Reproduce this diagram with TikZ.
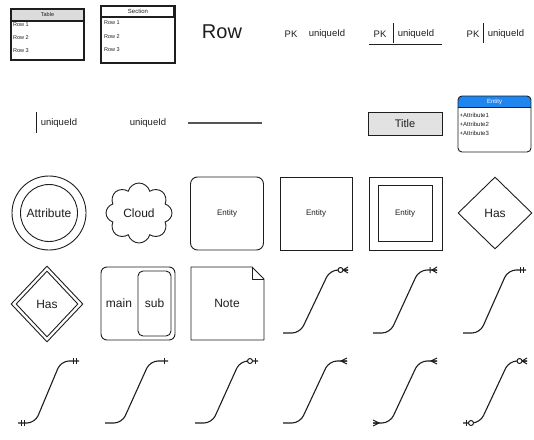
\documentclass[tikz,border=0pt]{standalone}
\usepackage{fontspec}
\setmainfont{Liberation Sans}
\usetikzlibrary{shapes.geometric,shapes.symbols,calc}
\definecolor{ink}{HTML}{1E1E1E}
\definecolor{hdrgray}{HTML}{DCDCDC}
\definecolor{titlegray}{HTML}{E2E2E2}
\definecolor{umlblue}{HTML}{1F86F0}
\definecolor{linegray}{HTML}{555555}
\tikzset{
  fs/.style={font=\fontsize{#1}{#1}\selectfont},
  lbl/.style={inner sep=0pt, text=ink},
  shp/.style={draw=ink, line width=0.9pt},
  conn/.style={draw=ink, line width=1.1pt, rounded corners=8pt},
  mk/.style={draw=ink, line width=1pt},
  mk one/.pic={\draw[mk] (-4,-3) -- (-4,3);},
  mk mand/.pic={\draw[mk] (-3,-3) -- (-3,3) (-6,-3) -- (-6,3);},
  mk many/.pic={\draw[mk] (0,-3) -- (-6,0) -- (0,3) (-6,0) -- (0,0);},
  mk onemany/.pic={\draw[mk] (0,-3) -- (-5,0) -- (0,3) (-5,0) -- (0,0) (-7,-3) -- (-7,3);},
  mk zeromany/.pic={\draw[mk] (0,-3) -- (-5,0) -- (0,3) (-5,0) -- (0,0); \draw[mk, fill=white] (-7.5,0) circle[radius=2.5];},
  mk zeroone/.pic={\draw[mk] (-3,-3) -- (-3,3); \draw[mk, fill=white] (-8,0) circle[radius=2.5];},
}
\newcommand{\erconn}[2]{\draw[conn] (#1) -- ++(17,0) -- ($(#2)+(-18,0)$) -- (#2);}
\begin{document}
\begin{tikzpicture}[x=1pt,y=-1pt]
\useasboundingbox[fill=white] (0,0) rectangle (534,439);

% ---------- Row 1 ----------
% Table
\draw[shp, line width=1.3pt, fill=white] (11,9) rectangle (84,60);
\draw[shp, line width=1.3pt, fill=hdrgray] (11,9) rectangle (84,21);
\node[lbl, fs=5.5] (tabh) at (47.5,15) {Table};
\node[lbl, fs=5.5, anchor=west] (tab1) at (13,25) {Row 1};
\node[lbl, fs=5.5, anchor=west] (tab2) at (13,38) {Row 2};
\node[lbl, fs=5.5, anchor=west] (tab3) at (13,51) {Row 3};
% Section
\draw[shp, line width=1.2pt, fill=white] (101,6) rectangle (175,63);
\draw[shp, line width=1.2pt] (101,17) -- (175,17);
\draw[ink, line width=2pt] (174,6) -- (174,17);
\node[lbl, fs=6] (sech) at (138,11.5) {Section};
\node[lbl, fs=5.5, anchor=west] (sec1) at (104,23) {Row 1};
\node[lbl, fs=5.5, anchor=west] (sec2) at (104,37) {Row 2};
\node[lbl, fs=5.5, anchor=west] (sec3) at (104,50) {Row 3};
% Row
\node[lbl, fs=20] (rowbig) at (222,32) {Row};
% PK uniqueId
\node[lbl, fs=9.5] (pk1) at (291,34) {PK};
\node[lbl, fs=9.5] (uid1) at (327,34) {uniqueId};
% PK | uniqueId underlined
\node[lbl, fs=9.5] (pk2) at (380,34) {PK};
\node[lbl, fs=9.5] (uid2) at (416,34) {uniqueId};
\draw[ink, line width=1pt] (393,23) -- (393,43);
\draw[ink, line width=1pt] (369,44) -- (442,44);
% PK | uniqueId
\node[lbl, fs=9.5] (pk3) at (473,34) {PK};
\node[lbl, fs=9.5] (uid3) at (506,34) {uniqueId};
\draw[ink, line width=1pt] (483,23) -- (483,43);

% ---------- Row 2 ----------
\draw[ink, line width=1pt] (36,112) -- (36,133);
\node[lbl, fs=9.5] (uid4) at (59,123) {uniqueId};
\node[lbl, fs=9.5] (uid5) at (148,123) {uniqueId};
\draw[linegray, line width=1.4pt] (188,123) -- (262,123);
\node[shp, fill=titlegray, minimum width=74pt, minimum height=23pt, inner sep=0pt, fs=11, text=ink] (title) at (405,123.5) {Title};
% UML entity
\begin{scope}
  \clip[rounded corners=4pt] (458,96) rectangle (531,152);
  \fill[umlblue] (458,96) rectangle (531,107);
\end{scope}
\draw[shp, rounded corners=4pt] (458,96) rectangle (531,152);
\draw[shp] (458,107) -- (531,107);
\node[lbl, fs=6, text=white] (umlh) at (494.5,101.5) {Entity};
\node[lbl, fs=6, anchor=west] (att1) at (459.5,115) {+Attribute1};
\node[lbl, fs=6, anchor=west] (att2) at (459.5,124) {+Attribute2};
\node[lbl, fs=6, anchor=west] (att3) at (459.5,133) {+Attribute3};

% ---------- Row 3 ----------
\node[shp, circle, minimum size=57pt, inner sep=0pt, fs=12, text=ink] (attr) at (49,213) {Attribute};
\draw[shp] (attr.center) circle[radius=37pt];
\node[shp, cloud, cloud puffs=8, aspect=1.1, minimum width=66pt, minimum height=60pt, inner sep=0pt, fs=12, text=ink] (cloud) at (139,213) {Cloud};
\node[shp, rounded corners=7pt, minimum width=73pt, minimum height=73pt, inner sep=0pt, fs=8, text=ink] (ent1) at (227,213.5) {Entity};
\node[shp, minimum width=72pt, minimum height=73pt, inner sep=0pt, fs=8, text=ink] (ent2) at (316,213.5) {Entity};
\node[shp, minimum width=54pt, minimum height=56pt, inner sep=0pt, fs=8, text=ink] (ent3) at (405,213) {Entity};
\draw[shp] (369,177) rectangle (442,250);
\node[shp, diamond, minimum width=74pt, minimum height=72pt, inner sep=0pt, fs=12, text=ink] (has1) at (495,213) {Has};

% ---------- Row 4 ----------
\node[shp, diamond, minimum width=72pt, minimum height=76pt, inner sep=0pt] (has2o) at (47,304) {};
\node[shp, diamond, minimum width=62pt, minimum height=66pt, inner sep=0pt, fs=12, text=ink] (has2) at (47,304) {Has};
\draw[shp, rounded corners=6pt] (101,267) rectangle (175,340);
\draw[shp, rounded corners=5pt] (138,271) rectangle (171,336);
\node[lbl, fs=12] (main) at (119,303) {main};
\node[lbl, fs=12] (sub) at (154.5,303) {sub};
\draw[shp, line join=round] (191,267) -- (252,267) -- (264,279) -- (264,340) -- (191,340) -- cycle;
\draw[shp, line join=round] (252,267) -- (252,279) -- (264,279);
\node[lbl, fs=12] (note) at (227,303) {Note};

% connectors row 4
\coordinate (a1) at (283,333); \coordinate (b1) at (348,270);
\coordinate (a2) at (373,333); \coordinate (b2) at (437,270);
\coordinate (a3) at (463,333); \coordinate (b3) at (526,270);
\erconn{a1}{b1} \path (b1) pic {mk zeromany};
\erconn{a2}{b2} \path (b2) pic {mk onemany};
\erconn{a3}{b3} \path (b3) pic {mk mand};

% connectors row 5
\coordinate (a4) at (18,423);  \coordinate (b4) at (79,361);
\coordinate (a5) at (105,423); \coordinate (b5) at (168,361);
\coordinate (a6) at (195,423); \coordinate (b6) at (258,361);
\coordinate (a7) at (283,423); \coordinate (b7) at (347,361);
\coordinate (a8) at (373,423); \coordinate (b8) at (437,361);
\coordinate (a9) at (463,423); \coordinate (b9) at (527,361);
\erconn{a4}{b4} \path (b4) pic {mk mand}; \path (a4) pic[xscale=-1] {mk mand};
\erconn{a5}{b5} \path (b5) pic {mk one};
\erconn{a6}{b6} \path (b6) pic {mk zeroone};
\erconn{a7}{b7} \path (b7) pic {mk many};
\erconn{a8}{b8} \path (b8) pic {mk many}; \path (a8) pic[xscale=-1] {mk many};
\erconn{a9}{b9} \path (b9) pic {mk zeromany}; \path (a9) pic[xscale=-1] {mk zeroone};
\end{tikzpicture}
\end{document}
